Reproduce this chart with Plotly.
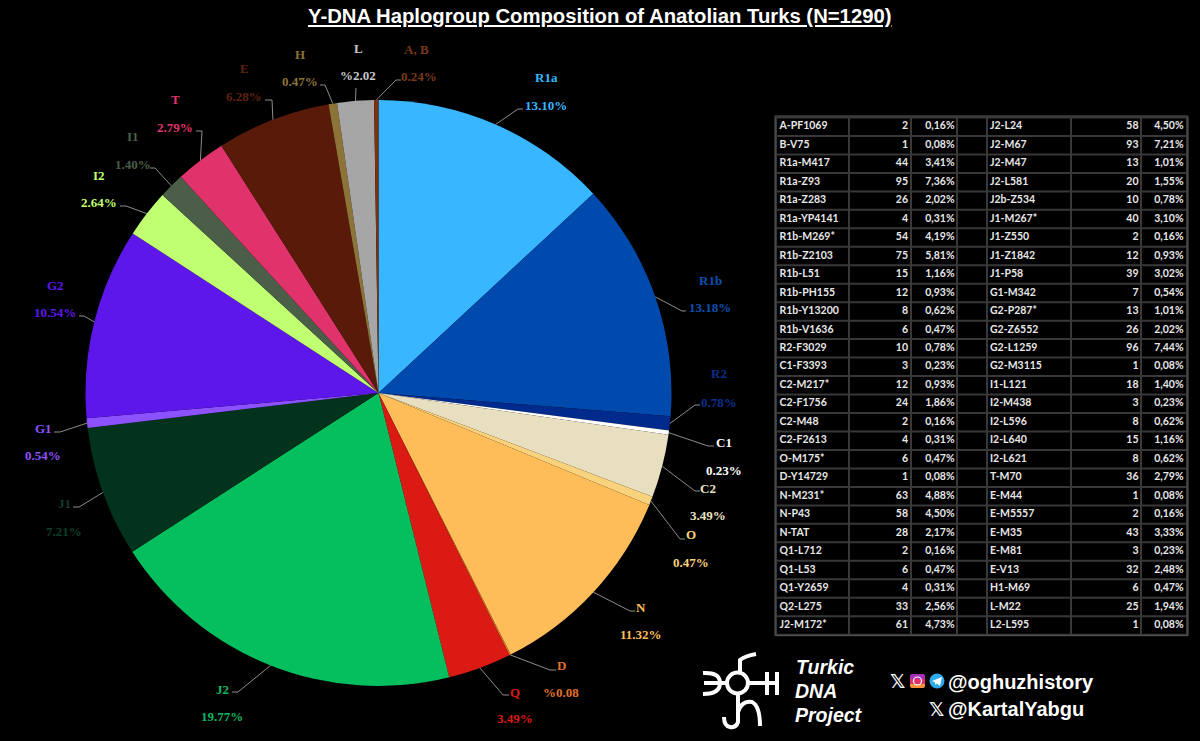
import math
import plotly.graph_objects as go

W, H = 1200, 741

# pie data, clockwise from 12 o'clock
groups = ["R1a", "R1b", "R2", "C1", "C2", "O", "N", "D", "Q", "J2",
          "J1", "G1", "G2", "I2", "I1", "T", "E", "H", "L", "A, B"]
shares = [13.10, 13.18, 0.78, 0.23, 3.49, 0.47, 11.32, 0.08, 3.49, 19.77,
          7.21, 0.54, 10.54, 2.64, 1.40, 2.79, 6.28, 0.47, 2.02, 0.24]
share_text = ["13.10%", "13.18%", "0.78%", "0.23%", "3.49%", "0.47%", "11.32%", "%0.08", "3.49%", "19.77%",
              "7.21%", "0.54%", "10.54%", "2.64%", "1.40%", "2.79%", "6.28%", "0.47%", "%2.02", "0.24%"]

# table, left half
names_l = ["A-PF1069", "B-V75", "R1a-M417", "R1a-Z93", "R1a-Z283", "R1a-YP4141", "R1b-M269*", "R1b-Z2103",
           "R1b-L51", "R1b-PH155", "R1b-Y13200", "R1b-V1636", "R2-F3029", "C1-F3393", "C2-M217*", "C2-F1756",
           "C2-M48", "C2-F2613", "O-M175*", "D-Y14729", "N-M231*", "N-P43", "N-TAT", "Q1-L712", "Q1-L53",
           "Q1-Y2659", "Q2-L275", "J2-M172*"]
counts_l = [2, 1, 44, 95, 26, 4, 54, 75, 15, 12, 8, 6, 10, 3, 12, 24, 2, 4, 6, 1, 63, 58, 28, 2, 6, 4, 33, 61]
pct_l = ["0,16%", "0,08%", "3,41%", "7,36%", "2,02%", "0,31%", "4,19%", "5,81%", "1,16%", "0,93%", "0,62%",
         "0,47%", "0,78%", "0,23%", "0,93%", "1,86%", "0,16%", "0,31%", "0,47%", "0,08%", "4,88%", "4,50%",
         "2,17%", "0,16%", "0,47%", "0,31%", "2,56%", "4,73%"]

# table, right half
names_r = ["J2-L24", "J2-M67", "J2-M47", "J2-L581", "J2b-Z534", "J1-M267*", "J1-Z550", "J1-Z1842", "J1-P58",
           "G1-M342", "G2-P287*", "G2-Z6552", "G2-L1259", "G2-M3115", "I1-L121", "I2-M438", "I2-L596", "I2-L640",
           "I2-L621", "T-M70", "E-M44", "E-M5557", "E-M35", "E-M81", "E-V13", "H1-M69", "L-M22", "L2-L595"]
counts_r = [58, 93, 13, 20, 10, 40, 2, 12, 39, 7, 13, 26, 96, 1, 18, 3, 8, 15, 8, 36, 1, 2, 43, 3, 32, 6, 25, 1]
pct_r = ["4,50%", "7,21%", "1,01%", "1,55%", "0,78%", "3,10%", "0,16%", "0,93%", "3,02%", "0,54%", "1,01%",
         "2,02%", "7,44%", "0,08%", "1,40%", "0,23%", "0,62%", "1,16%", "0,62%", "2,79%", "0,08%", "0,16%",
         "3,33%", "0,23%", "2,48%", "0,47%", "1,94%", "0,08%"]

colors = ["#38B6FF", "#004AAD", "#002A8C", "#FFFFFF", "#E8DFC0", "#F8D27C", "#FFBD59", "#E0702A", "#DB1A14", "#05BF5E",
          "#04331D", "#8C52FF", "#5E17EB", "#C1FF72", "#4A5E48", "#E0336B", "#5A1A0A", "#8C7338", "#A6A6A6", "#7A3212"]
text_colors = ["#38B6FF", "#0A50B4", "#0A2E8C", "#FFFFFF", "#EDE3C4", "#F8D27C", "#FFBD59", "#E0702A", "#DB1A14", "#0BB860",
               "#0C3F26", "#8C52FF", "#5E17EB", "#C1FF72", "#4A5E48", "#E0336B", "#5E2012", "#8C7338", "#C8C8C8", "#7A3A18"]

# label placement in page pixels: name centre, share centre, leader elbow, leader end
name_xy = [(546, 77), (710, 280), (719, 373), (724, 442), (708, 488), (691, 534), (641, 607), (561, 665),
           (515, 692), (222, 689), (64, 503), (43, 428), (55, 285), (99, 175), (133, 136), (175, 99),
           (244, 68), (300, 54), (358, 48), (416, 49)]
share_xy = [(546, 105), (710, 307), (719, 402), (724, 470), (708, 515), (691, 562), (641, 634), (561, 692),
            (515, 718), (222, 716), (64, 531), (43, 455), (55, 312), (99, 202), (133, 164), (175, 127),
            (244, 96), (300, 81), (358, 75), (419, 76)]
elbow_xy = [(518, 109), (682, 311), (695, 405), (708, 446), (695, 491), (680, 539), (630, 611), (550, 670),
            (503, 695), (238, 692), (79, 507), (60, 432), (84, 316), (126, 206), (155, 168), (202, 131),
            (272, 100), (325, 85), (356, 88), (396, 80)]
end_xy = [(523, 109), (686, 311), (700, 405), (714, 446), (700, 491), (685, 539), (635, 611), (556, 670),
          (509, 695), (232, 692), (73, 507), (54, 432), (79, 316), (120, 206), (150, 168), (196, 131),
          (265, 100), (320, 85), (356, 88), (401, 80)]

cx, cy, radius = 378.5, 393, 293

# table geometry in page pixels
col_edges = [776, 849, 911, 957, 987, 1071, 1141, 1187]
row_top, row_pitch = 117.5, 18.47

fig = go.Figure()

fig.add_trace(go.Pie(
    labels=groups, values=shares, sort=False, direction="clockwise", rotation=0,
    marker=dict(colors=colors, line=dict(width=0)), textinfo="none", showlegend=False,
    domain=dict(x=[(cx - radius) / W, (cx + radius) / W], y=[1 - (cy + radius) / H, 1 - (cy - radius) / H]),
))

# go.Table forces 28px rows at least, so the table is text traces over a grid
table_cols = [
    (names_l, 779.5, "middle right"),
    (counts_l, 908, "middle left"),
    (pct_l, 954.5, "middle left"),
    (names_r, 990, "middle right"),
    (counts_r, 1138.5, "middle left"),
    (pct_r, 1183.5, "middle left"),
]
row_y = [row_top + row_pitch * (i + 0.5) for i in range(len(names_l))]
for values, x_pos, pos in table_cols:
    fig.add_trace(go.Scatter(
        x=[x_pos] * len(values), y=row_y, mode="text", text=[f"<b>{v}</b>" for v in values], textposition=pos,
        textfont=dict(family="Lato", size=10.5, color="#E8E8E8"), hoverinfo="skip", showlegend=False,
    ))

shapes = []
annotations = []


def label(x, y, text, size=13, color="#FFFFFF", family="Liberation Serif", anchor="center"):
    annotations.append(dict(x=x, y=y, xref="x", yref="y", text=text, showarrow=False, xanchor=anchor, yanchor="middle",
                            font=dict(family=family, size=size, color=color)))


def stroke(path, width=4, color="#FFFFFF"):
    shapes.append(dict(type="path", path=path, xref="x", yref="y", line=dict(color=color, width=width)))


def fill(path, color):
    shapes.append(dict(type="path", path=path, xref="x", yref="y", fillcolor=color, line=dict(width=0)))


# table grid
table_bottom = row_top + row_pitch * len(names_l)
for i in range(len(names_l) + 1):
    y = row_top + row_pitch * i
    stroke(f"M {col_edges[0]} {y:.1f} L {col_edges[-1]} {y:.1f}", 2, "#383838")
for x in col_edges:
    stroke(f"M {x} {row_top} L {x} {table_bottom:.1f}", 2, "#383838")
shapes.append(dict(type="rect", xref="x", yref="y", x0=col_edges[0] - 1, x1=col_edges[-1] + 1,
                   y0=row_top - 1.5, y1=table_bottom + 1, line=dict(color="#5A5A5A", width=1)))

# leaders start at the middle of each slice on the rim
done = 0
for i, name in enumerate(groups):
    mid = (done + shares[i] / 2) / sum(shares) * 2 * math.pi
    done += shares[i]
    sx = cx + radius * math.sin(mid)
    sy = cy - radius * math.cos(mid)
    stroke(f"M {sx:.1f} {sy:.1f} L {elbow_xy[i][0]} {elbow_xy[i][1]} L {end_xy[i][0]} {end_xy[i][1]}", 1, "#8C8C8C")
    label(name_xy[i][0], name_xy[i][1], f"<b>{name}</b>", color=text_colors[i])
    label(share_xy[i][0], share_xy[i][1], f"<b>{share_text[i]}</b>", color=text_colors[i])

label(600, 16, "<b><u>Y-DNA Haplogroup Composition of Anatolian Turks (N=1290)</u></b>", 20.3, family="Liberation Sans")

# logo
shapes.append(dict(type="circle", xref="x", yref="y", x0=727, x1=748, y0=672.5, y1=693.5,
                   line=dict(color="#FFFFFF", width=4)))
stroke("M 704 683 L 727 683")
stroke("M 703 673 Q 720 672 720 683 Q 720 694 703 694")
stroke("M 748 683 L 778 683")
stroke("M 767 672 L 767 695")
stroke("M 777 672 L 777 695")
stroke("M 740 672 L 740 660 Q 745 656 756 654")
stroke("M 738 694 L 738 722 Q 736 728 730 727 Q 724 726 724 717")
stroke("M 738 712 Q 742 700 752 702 Q 760 706 760 726")

label(794, 667, "<b><i>Turkic</i></b>", 19.5, family="Liberation Sans", anchor="left")
label(793, 691, "<b><i>DNA</i></b>", 19.5, family="Liberation Sans", anchor="left")
label(793, 715, "<b><i>Project</i></b>", 19.5, family="Liberation Sans", anchor="left")

# handles and icons
label(946, 682, "<b>@oghuzhistory</b>", 20, family="Liberation Sans", anchor="left")
label(946, 709, "<b>@KartalYabgu</b>", 20, family="Liberation Sans", anchor="left")
label(897, 681, "<b>𝕏</b>", 19, family="DejaVu Sans")
label(936, 709, "<b>𝕏</b>", 19, family="DejaVu Sans")

fill("M 912 674 L 923 674 Q 925 674 925 676 L 925 679 L 910 679 L 910 676 Q 910 674 912 674 Z", "#A52FB5")
fill("M 910 679 L 925 679 L 925 684 L 910 684 Z", "#E1306C")
fill("M 910 684 L 925 684 L 925 686 Q 925 688 923 688 L 912 688 Q 910 688 910 686 Z", "#F9913A")
shapes.append(dict(type="circle", xref="x", yref="y", x0=913.5, x1=921.5, y0=677, y1=685,
                   line=dict(color="#FFFFFF", width=1.2)))
shapes.append(dict(type="circle", xref="x", yref="y", x0=929.5, x1=944.5, y0=673.5, y1=688.5,
                   fillcolor="#2AABEE", line=dict(width=0)))
fill("M 932 681 L 942 677 L 940 686 L 937 683.5 L 935.5 685 L 935 682.5 Z", "#FFFFFF")

fig.update_layout(
    width=W, height=H,
    margin=dict(l=0, r=0, t=0, b=0),
    paper_bgcolor="#000000", plot_bgcolor="#000000",
    showlegend=False,
    xaxis=dict(range=[0, W], visible=False, fixedrange=True),
    yaxis=dict(range=[H, 0], visible=False, fixedrange=True),
    shapes=shapes,
    annotations=annotations,
)

# the page's default body margin would shift everything by 8px
fig.write_html("out.html", config=dict(displayModeBar=False),
               post_script="document.body.style.margin='0';document.body.style.background='#000';")
